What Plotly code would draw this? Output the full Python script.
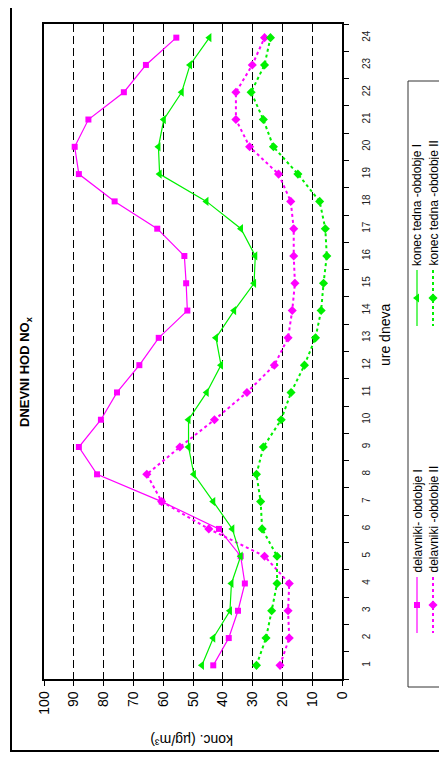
import plotly.graph_objects as go

# hours of the day
hours = list(range(1, 25))

# NOx concentrations (ug/m3)
delavniki_I = [43.2, 38.0, 34.9, 32.6, 34.0, 41.3, 60.5, 82.2, 88.3, 80.9, 75.5, 68.0,
               61.5, 51.9, 52.3, 52.9, 62.0, 76.3, 88.3, 89.7, 85.1, 73.2, 65.8, 55.6]
delavniki_II = [20.8, 17.7, 18.1, 17.7, 26.0, 44.7, 60.5, 65.5, 54.4, 42.8, 31.9, 22.7,
                18.1, 16.7, 15.8, 16.2, 16.2, 17.2, 21.3, 31.0, 35.6, 35.6, 30.1, 26.0]
vikend_I = [47.0, 43.2, 37.6, 37.1, 34.0, 36.8, 43.2, 49.7, 51.5, 51.5, 45.4, 40.6,
            42.3, 36.2, 29.5, 29.1, 33.9, 45.5, 61.2, 61.6, 59.8, 53.8, 51.0, 44.5]
vikend_II = [28.7, 25.5, 23.6, 21.8, 21.8, 26.8, 27.3, 28.7, 26.4, 20.4, 17.1, 12.6,
             8.9, 7.0, 6.2, 5.1, 5.6, 7.5, 14.8, 23.0, 26.4, 30.5, 26.0, 24.0]

names = ["delavniki- obdobje I", "delavniki -obdobje II",
         "konec tedna -obdobje I", "konec tedna -obdobje II"]
conc_ticks = list(range(0, 101, 10))

MAG = "#ff00ff"
GRN = "#00f000"
FONT = "Liberation Sans"

# page has an 8px body margin, so the figure is shrunk by that much
OFF = 8
W, H = 447 - OFF, 759 - OFF

# colour, dash, symbol, marker size, line width
styles = [(MAG, "solid", "square", 6, 1.2),
          (MAG, "dot", "diamond", 7, 2),
          (GRN, "solid", "triangle-left", 8, 1.2),
          (GRN, "dot", "diamond", 7, 2)]

fig = go.Figure()

# chart is drawn "lying on its side": concentration runs right->left, hours bottom->top
for name, vals, (c, d, s, ms, lw) in zip(names, [delavniki_I, delavniki_II, vikend_I, vikend_II], styles):
    fig.add_trace(go.Scatter(x=vals, y=hours, name=name, mode="lines+markers",
                             line=dict(color=c, dash=d, width=lw),
                             marker=dict(symbol=s, size=ms, color=c),
                             cliponaxis=False))

# hand-made rotated legend, placed in window pixel space (x2/y2 cover the whole page)
slots = [(417, 577, 633, 605), (433, 577, 633, 605),
         (417, 270, 326, 298), (433, 270, 326, 298)]
for name, (c, d, s, ms, lw), (lx, y0, y1, ym) in zip(names, styles, slots):
    fig.add_trace(go.Scatter(x=[lx, lx], y=[y0, y1], xaxis="x2", yaxis="y2", mode="lines",
                             line=dict(color=c, dash=d, width=lw), hoverinfo="skip"))
    fig.add_trace(go.Scatter(x=[lx], y=[ym], xaxis="x2", yaxis="y2", mode="markers",
                             marker=dict(symbol=s, size=ms, color=c), hoverinfo="skip"))
    fig.add_annotation(x=lx, y=y0 - 2, xref="x2", yref="y2", text=name, showarrow=False,
                       textangle=-90, xanchor="center", yanchor="bottom",
                       font=dict(family=FONT, size=12, color="black"))

# legend box + outer chart frame
fig.add_shape(type="rect", xref="x2", yref="y2", x0=408, x1=445.5, y0=81, y1=687,
              line=dict(color="#333", width=1))
fig.add_shape(type="rect", xref="x2", yref="y2", x0=11, x1=470, y0=-10, y1=751,
              line=dict(color="black", width=2))

# titles
fig.add_annotation(x=25, y=372, xref="x2", yref="y2", showarrow=False, textangle=-90,
                   text="<b>DNEVNI HOD NO<sub>x</sub></b>",
                   font=dict(family=FONT, size=13, color="black"))
fig.add_annotation(x=192, y=740, xref="x2", yref="y2", showarrow=False, textangle=180,
                   text="konc. (µg/m³)", font=dict(family=FONT, size=14, color="black"))
fig.add_annotation(x=385, y=335, xref="x2", yref="y2", showarrow=False, textangle=-90,
                   text="ure dneva", font=dict(family=FONT, size=14, color="black"))

fig.update_layout(
    width=W, height=H,
    margin=dict(l=0, r=0, t=0, b=0, autoexpand=False),
    showlegend=False,
    paper_bgcolor="white", plot_bgcolor="rgba(0,0,0,0)",
    font=dict(family=FONT, color="black"),
    xaxis=dict(domain=[(44 - OFF) / W, (342 - OFF) / W], anchor="y", range=[100, 0],
               tickvals=conc_ticks, tickangle=-90, ticks="outside", ticklen=5,
               tickcolor="black", tickfont=dict(size=14),
               showline=True, mirror=True, linecolor="black", linewidth=1.5,
               showgrid=True, gridcolor="black", gridwidth=1, griddash="8px,4px",
               zeroline=False),
    yaxis=dict(domain=[(759 - 679) / H, (759 - 24) / H], anchor="x", side="right",
               range=[0.5, 24.5], tickvals=hours, ticks="", tickangle=-90,
               ticklabelstandoff=14, tickfont=dict(size=10, color="#222"),
               minor=dict(tickvals=[h + 0.5 for h in range(25)], ticks="outside",
                          ticklen=5, tickcolor="black"),
               showline=True, mirror=True, linecolor="black", linewidth=1.5,
               showgrid=False, zeroline=False),
    yaxis3=dict(overlaying="y", anchor="x", side="right", range=[0.5, 24.5],
                tickvals=[h + 0.5 for h in range(25)], ticks="inside", ticklen=5,
                tickcolor="black", showticklabels=False, showgrid=False,
                zeroline=False, showline=False),
    xaxis2=dict(domain=[0, 1], anchor="y2", range=[OFF, 447], visible=False),
    yaxis2=dict(domain=[0, 1], anchor="x2", range=[759, OFF], visible=False),
)

fig.write_html("out.html")
